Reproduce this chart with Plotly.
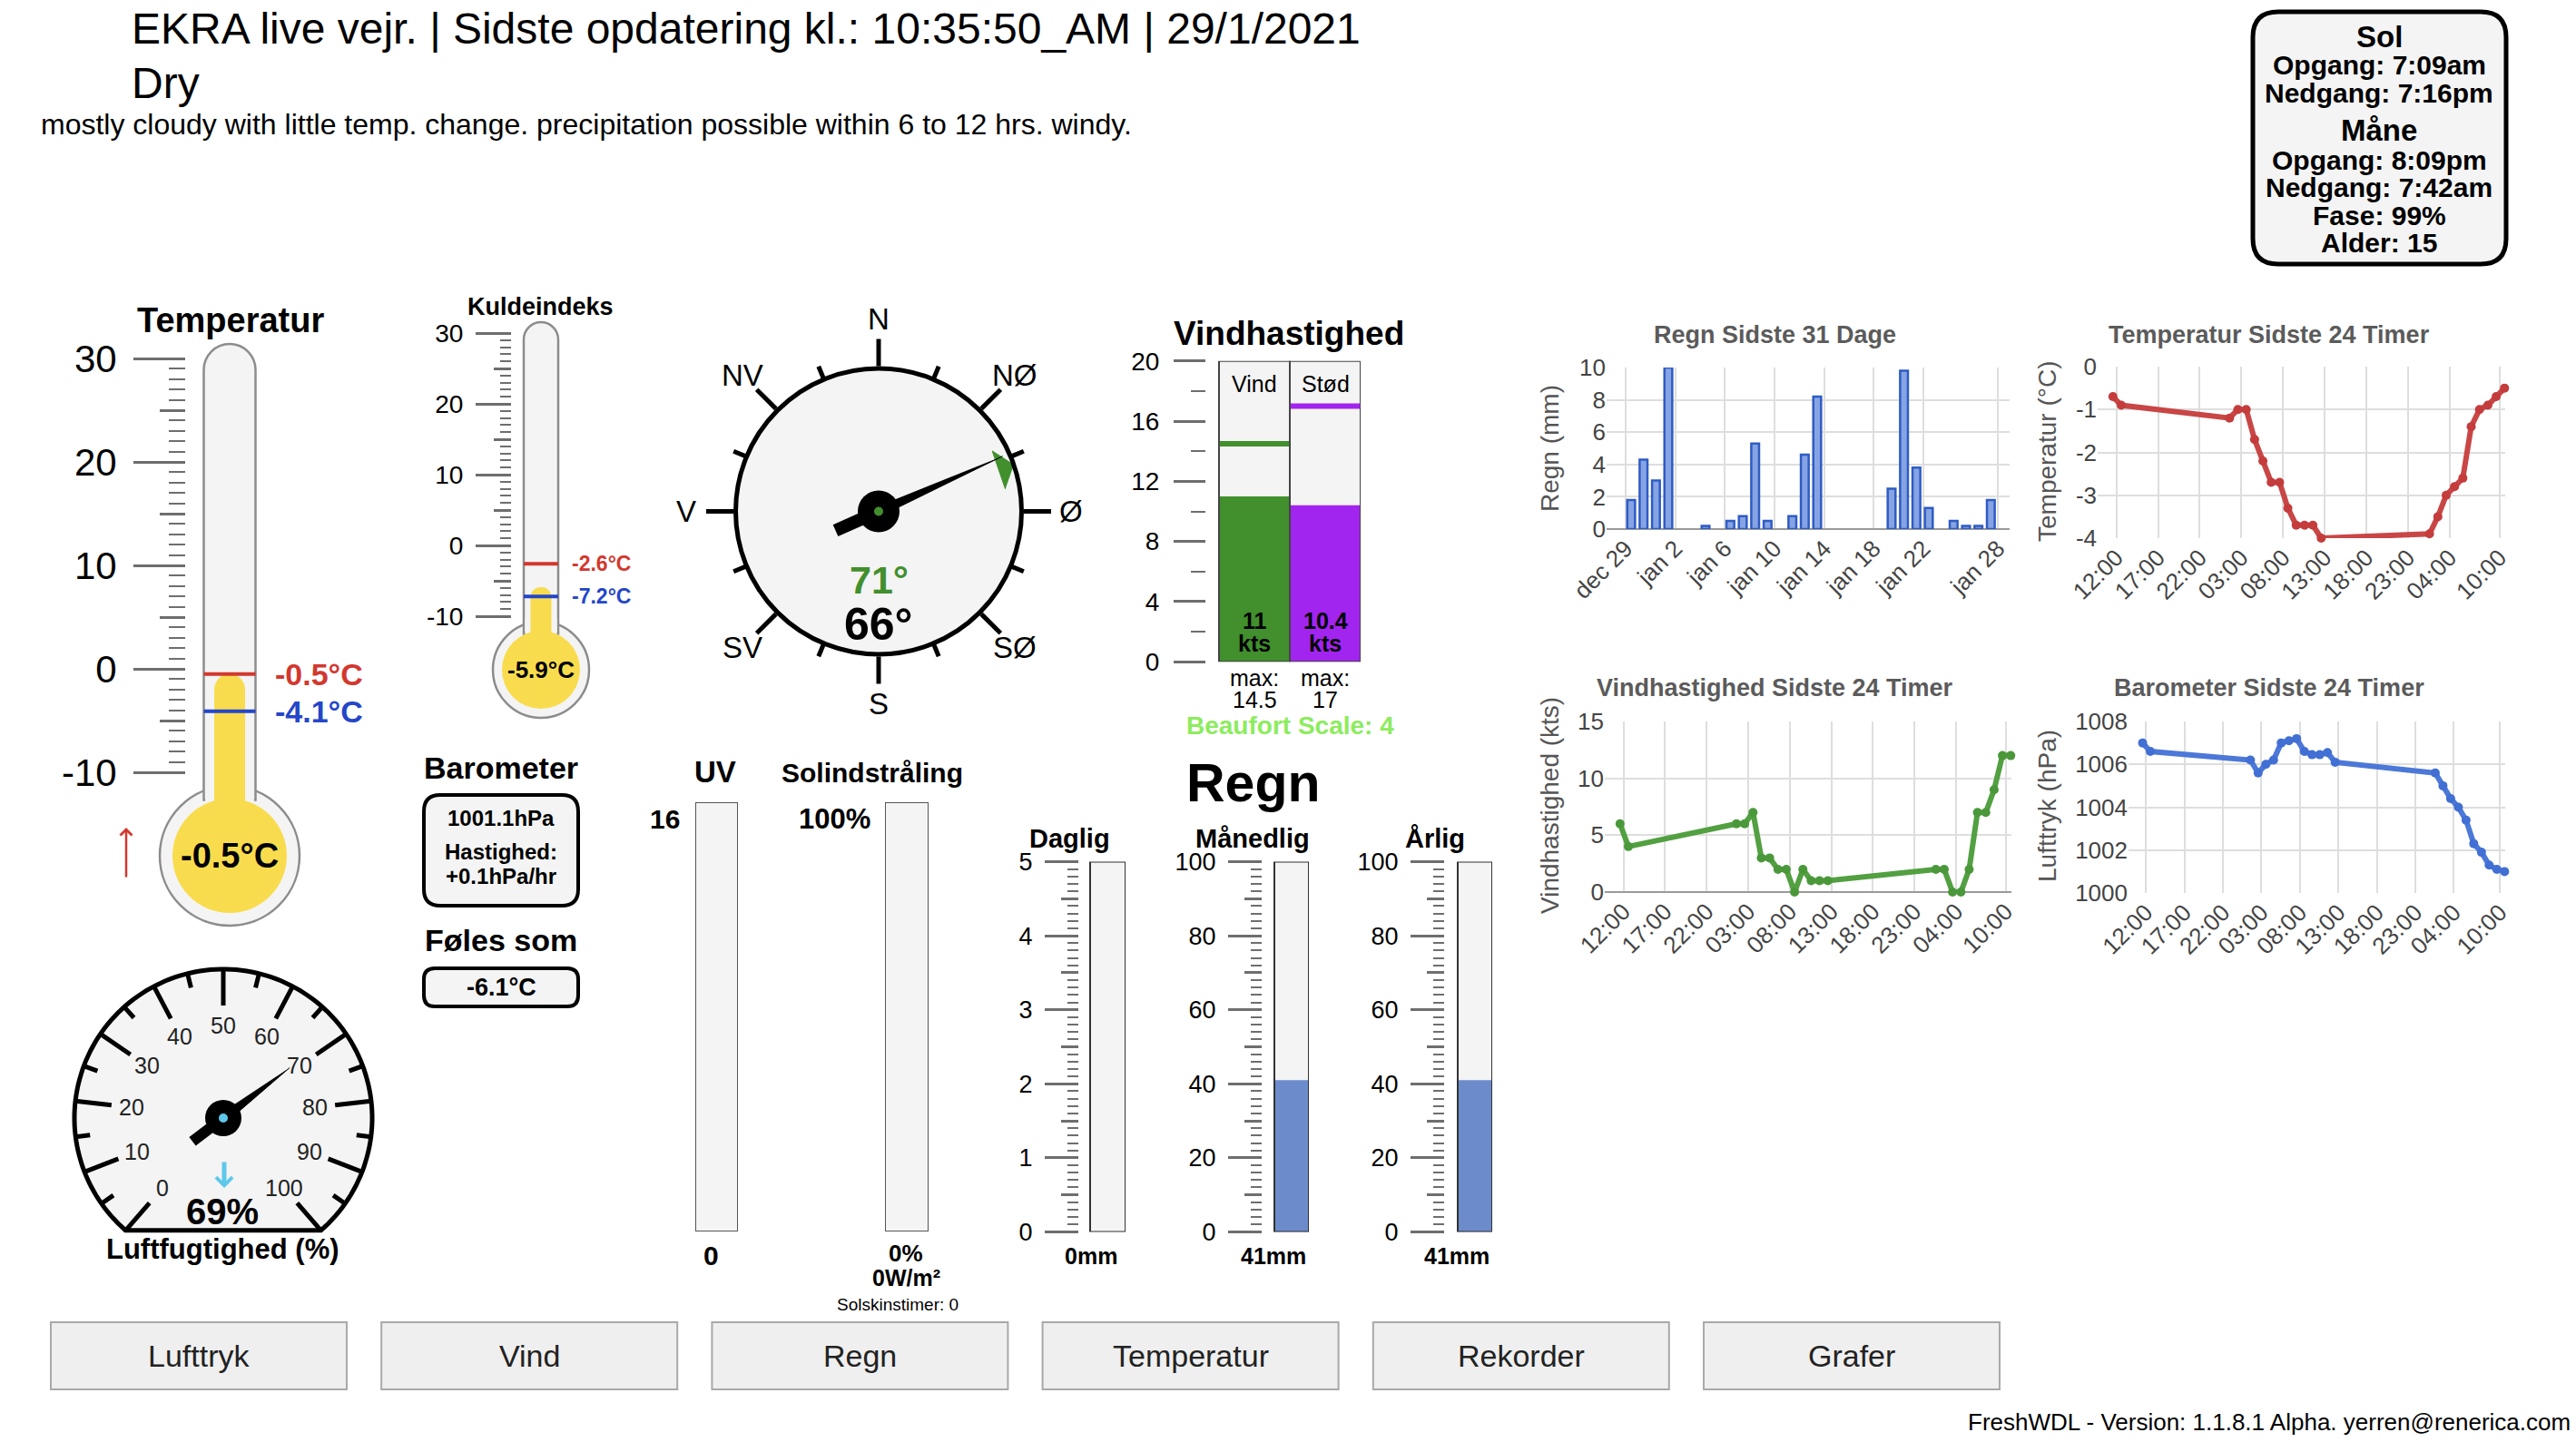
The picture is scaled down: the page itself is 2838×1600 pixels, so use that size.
import numpy as np
import plotly.graph_objects as go

W, H = 2838, 1600
FONT = "Liberation Sans, Arial, Helvetica, sans-serif"

# ---------------------------------------------------------------- data
title_text = "EKRA live vejr. | Sidste opdatering kl.: 10:35:50_AM | 29/1/2021"
condition_text = "Dry"
forecast_text = "mostly cloudy with little temp. change. precipitation possible within 6 to 12 hrs. windy."

sun_head = "Sol"
sun_lines = ["Opgang: 7:09am", "Nedgang: 7:16pm"]
moon_head = "Måne"
moon_lines = ["Opgang: 8:09pm", "Nedgang: 7:42am", "Fase: 99%", "Alder: 15"]

temp_now = -0.5
temp_high = -0.5
temp_low = -4.1

chill_now = -5.9
chill_high = -2.6
chill_low = -7.2

baro_value = 1001.1
baro_rate = 0.1
feels_like = -6.1
humidity = 69

wind_dir = 66
wind_dir_avg = 71
compass_labels = ["N", "NØ", "Ø", "SØ", "S", "SV", "V", "NV"]

wind_names = ["Vind", "Stød"]
wind_speed = [11, 10.4]
wind_max = [14.5, 17]
wind_scale_max = 20
beaufort = 4

uv_index = 0
uv_scale_max = 16
solar_pct = 0
solar_wm2 = 0
sun_hours = 0

rain_gauge_names = ["Daglig", "Månedlig", "Årlig"]
rain_gauge_values = [0, 41, 41]
rain_gauge_max = [5, 100, 100]

rain_days = ["2020-12-29", "2020-12-30", "2020-12-31", "2021-01-01", "2021-01-04",
             "2021-01-06", "2021-01-07", "2021-01-08", "2021-01-09", "2021-01-11",
             "2021-01-12", "2021-01-13", "2021-01-19", "2021-01-20", "2021-01-21",
             "2021-01-22", "2021-01-24", "2021-01-25", "2021-01-26", "2021-01-27"]
rain_mm = [1.8, 4.3, 3.0, 10.0, 0.2, 0.5, 0.8, 5.3, 0.5, 0.8,
           4.6, 8.2, 2.5, 9.8, 3.8, 1.3, 0.5, 0.2, 0.2, 1.8]
rain_tick_days = ["2020-12-29", "2021-01-02", "2021-01-06", "2021-01-10",
                  "2021-01-14", "2021-01-18", "2021-01-22", "2021-01-28"]
rain_tick_labels = ["dec 29", "jan 2", "jan 6", "jan 10", "jan 14", "jan 18", "jan 22", "jan 28"]

obs_times = ["2021-01-27 11:35", "2021-01-27 12:35",
             "2021-01-28 01:35", "2021-01-28 02:35", "2021-01-28 03:35", "2021-01-28 04:35",
             "2021-01-28 05:35", "2021-01-28 06:35", "2021-01-28 07:35", "2021-01-28 08:35",
             "2021-01-28 09:35", "2021-01-28 10:35", "2021-01-28 11:35", "2021-01-28 12:35",
             "2021-01-29 01:35", "2021-01-29 02:35", "2021-01-29 03:35", "2021-01-29 04:35",
             "2021-01-29 05:35", "2021-01-29 06:35", "2021-01-29 07:35", "2021-01-29 08:35",
             "2021-01-29 09:35", "2021-01-29 10:35"]
temp_24h = [-0.7, -0.9, -1.2, -1.0, -1.0, -1.7, -2.2, -2.7, -2.7, -3.3, -3.7, -3.7,
            -3.7, -4.0, -3.9, -3.5, -3.0, -2.8, -2.6, -1.4, -1.0, -0.9, -0.7, -0.5]
wind_24h = [6, 4, 6, 6, 7, 3, 3, 2, 2, 0, 2, 1, 1, 1, 2, 2, 0, 0, 2, 7, 7, 9, 12, 12]
baro_24h = [1007.0, 1006.6, 1006.2, 1005.6, 1006.0, 1006.2, 1007.0, 1007.1, 1007.2, 1006.6,
            1006.45, 1006.45, 1006.55, 1006.1, 1005.6, 1005.0, 1004.4, 1004.0, 1003.4, 1002.3,
            1001.9, 1001.3, 1001.1, 1001.0]
hour_ticks = ["2021-01-27 12:00", "2021-01-27 17:00", "2021-01-27 22:00", "2021-01-28 03:00",
              "2021-01-28 08:00", "2021-01-28 13:00", "2021-01-28 18:00", "2021-01-28 23:00",
              "2021-01-29 04:00", "2021-01-29 10:00"]
hour_tick_labels = ["12:00", "17:00", "22:00", "03:00", "08:00", "13:00", "18:00", "23:00", "04:00", "10:00"]

nav_buttons = ["Lufttryk", "Vind", "Regn", "Temperatur", "Rekorder", "Grafer"]
footer_text = "FreshWDL - Version: 1.1.8.1 Alpha. yerren@renerica.com"

# ---------------------------------------------------------------- style
LIGHT = "#f4f4f4"
YELLOW = "#f8dc4e"
TUBE_LINE = "#8c8c8c"
TICK = "#6e6e6e"
RED = "#d2382f"
BLUE = "#2446c9"
GREEN = "#418f2d"
PURPLE = "#a224ef"
RAIN_FILL = "#6b8bcb"
GRID = "#dedede"
AXIS_TEXT = "#444444"
TITLE_GRAY = "#5b5b5b"


def dom_x(a, b):
    return [a / W, b / W]


def dom_y(top, bottom):
    return [1 - bottom / H, 1 - top / H]


def cal_dom(va, pa, vb, pb, lo, hi):
    k = (pb - pa) / (vb - va)
    return dom_y(pa + (hi - va) * k, pa + (lo - va) * k)


def cal_val(va, pa, vb, pb, px):
    k = (pb - pa) / (vb - va)
    return va + (px - pa) / k


fig = go.Figure()
shapes, anns = [], []
L = dict(width=W, height=H, margin=dict(l=0, r=0, t=0, b=0, pad=0, autoexpand=False),
         paper_bgcolor="white", plot_bgcolor="rgba(0,0,0,0)", showlegend=False,
         barmode="overlay", hovermode=False, font=dict(family=FONT))
L["xaxis"] = dict(domain=[0, 1], range=[0, W], visible=False, fixedrange=True, automargin=False)
L["yaxis"] = dict(domain=[0, 1], range=[H, 0], visible=False, fixedrange=True, automargin=False)


def dummy(xa, ya):
    fig.add_trace(go.Scatter(x=[None], y=[None], xaxis=xa, yaxis=ya, mode="markers",
                             hoverinfo="skip", showlegend=False))


dummy("x", "y")


def T(x, y, s, size, color="black", bold=False, xanchor="center", yanchor="middle", angle=0):
    if bold:
        s = f"<b>{s}</b>"
    anns.append(dict(x=x, y=y, xref="x", yref="y", text=s, showarrow=False,
                     font=dict(size=size, color=color, family=FONT),
                     xanchor=xanchor, yanchor=yanchor, textangle=angle))


def shp(**kw):
    kw.setdefault("xref", "x")
    kw.setdefault("yref", "y")
    kw.setdefault("layer", "below")
    shapes.append(kw)


def rrect(x0, y0, x1, y1, r, fill, line, lw):
    d = (f"M {x0+r},{y0} L {x1-r},{y0} Q {x1},{y0} {x1},{y0+r} L {x1},{y1-r} Q {x1},{y1} {x1-r},{y1} "
         f"L {x0+r},{y1} Q {x0},{y1} {x0},{y1-r} L {x0},{y0+r} Q {x0},{y0} {x0+r},{y0} Z")
    shp(type="path", path=d, fillcolor=fill, line=dict(color=line, width=lw))


def tube_path(cx, r, top, bottom):
    cy = top + r
    k = 0.5523 * r
    return (f"M {cx-r},{bottom} L {cx-r},{cy} C {cx-r},{cy-k} {cx-k},{top} {cx},{top} "
            f"C {cx+k},{top} {cx+r},{cy-k} {cx+r},{cy} L {cx+r},{bottom} Z")


def scale_y(name, anchor, domain, rng, vals, texts, ticklen, size, standoff,
            minor_vals=None, minor_len=0, overlaying=None, showlabels=True):
    d = dict(anchor=anchor, range=list(rng), tickmode="array", tickvals=vals, ticktext=texts,
             ticks="outside", ticklen=ticklen, tickwidth=2.5, tickcolor=TICK, showgrid=False,
             zeroline=False, showline=False, showticklabels=showlabels,
             tickfont=dict(size=size, color="black", family=FONT), ticklabelstandoff=standoff,
             fixedrange=True, side="left", automargin=False)
    if overlaying:
        d["overlaying"] = overlaying
    else:
        d["domain"] = domain
    if minor_vals is not None:
        d["minor"] = dict(tickmode="array", tickvals=minor_vals, ticks="outside", ticklen=minor_len,
                          tickwidth=2, tickcolor=TICK, showgrid=False)
    L[name] = d


# ---------------------------------------------------------------- header
T(143, 31, title_text, 48, xanchor="left")
T(143, 91, condition_text, 48, xanchor="left")
T(43, 137, forecast_text, 32, xanchor="left")

# sun / moon box
rrect(2482, 13, 2761, 291, 28, LIGHT, "black", 5)
T(2621, 40, sun_head, 33, bold=True)
for i, s in enumerate(sun_lines):
    T(2621, 71 + 31 * i, s, 30, bold=True)
T(2621, 143, moon_head, 33, bold=True)
for i, s in enumerate(moon_lines):
    T(2621, 176 + 30.5 * i, s, 30, bold=True)


# ---------------------------------------------------------------- thermometers
def thermometer(ix, iy, imid, cx, half, top, bcy, br, bin_r, col_half, tick_x, cal, rng,
                now, hi, lo, lab_size, standoff, major_len, mid_len, minor_len, side_size, bulb_size):
    shp(type="circle", x0=cx - br, x1=cx + br, y0=bcy - br, y1=bcy + br, fillcolor=LIGHT,
        line=dict(color=TUBE_LINE, width=2.5))
    join = bcy - np.sqrt(br ** 2 - half ** 2) + 10
    shp(type="path", path=tube_path(cx, half, top, join), fillcolor=LIGHT,
        line=dict(color=TUBE_LINE, width=2.5))
    shp(type="rect", x0=cx - half + 1.6, x1=cx + half - 1.6, y0=bcy - br - 4, y1=join + 4,
        fillcolor=LIGHT, line=dict(width=0))
    shp(type="circle", x0=cx - bin_r, x1=cx + bin_r, y0=bcy - bin_r, y1=bcy + bin_r,
        fillcolor=YELLOW, line=dict(width=0))
    D = 2 * (cx - tick_x)
    L[f"xaxis{ix}"] = dict(domain=dom_x(tick_x, 2 * cx - tick_x), range=[-0.5, 0.5],
                           anchor=f"y{iy}", visible=False, fixedrange=True, type="linear")
    major = [-10, 0, 10, 20, 30]
    scale_y(f"yaxis{iy}", f"x{ix}", cal_dom(*cal, *rng), rng, major, [f"{v}" for v in major],
            major_len, lab_size, standoff, list(range(-10, 31)), minor_len)
    mids = [-5, 5, 15, 25]
    scale_y(f"yaxis{imid}", f"x{ix}", None, rng, mids, [""] * 4, mid_len, lab_size, 0,
            overlaying=f"y{iy}", showlabels=False)
    dummy(f"x{ix}", f"y{imid}")
    bulb_val = cal_val(*cal, bcy)
    fig.add_trace(go.Bar(x=[0], y=[now - bulb_val], base=[bulb_val], width=[2 * col_half / D],
                         marker=dict(color=YELLOW, cornerradius=col_half, line=dict(width=0)),
                         xaxis=f"x{ix}", yaxis=f"y{iy}"))
    lx = half / D
    for v, c in ((hi, RED), (lo, BLUE)):
        fig.add_trace(go.Scatter(x=[-lx, lx], y=[v, v], mode="lines", line=dict(color=c, width=4),
                                 xaxis=f"x{ix}", yaxis=f"y{iy}"))
        anns.append(dict(xref=f"x{ix}", yref=f"y{iy}", x=0.5, y=v, text=f"<b>{v:.1f}°C</b>",
                         showarrow=False, xanchor="left", yanchor="middle",
                         font=dict(size=side_size, color=c, family=FONT)))
    T(cx, bcy, f"{now:.1f}°C", bulb_size, bold=True)


T(254, 353, "Temperatur", 38, bold=True)
thermometer(2, 2, 3, 253, 28.5, 379, 943, 77, 63, 17, 205, (30, 395, -10, 851), (-26, 33),
            temp_now, temp_high, temp_low, 42, 10, 57, 28, 18, 34, 38)
anns.append(dict(x=139, y=912, ax=139, ay=968, xref="x", yref="y", axref="x", ayref="y",
                 text="", showarrow=True, arrowhead=4, arrowsize=1, arrowwidth=2.5, arrowcolor=RED))

T(595, 338, "Kuldeindeks", 27, bold=True)
thermometer(4, 4, 5, 596, 19, 355, 738, 53, 43, 11.5, 564, (30, 367, -10, 679), (-26, 33),
            chill_now, chill_high, chill_low, 28, 8, 39, 19, 12, 23, 26)

# barometer / feels like
T(552, 846, "Barometer", 34, bold=True)
rrect(467, 876, 637, 998, 18, LIGHT, "black", 4)
T(552, 901, f"{baro_value:.1f}hPa", 24, bold=True)
T(552, 938, "Hastighed:", 24, bold=True)
T(552, 965, f"{baro_rate:+.1f}hPa/hr", 24, bold=True)
T(552, 1036, "Føles som", 34, bold=True)
rrect(467, 1067, 637, 1109, 12, LIGHT, "black", 4)
T(552, 1088, f"{feels_like:.1f}°C", 27, bold=True)

# ---------------------------------------------------------------- humidity gauge
HCX, HCY, HR = 246, 1232, 164
H_START, H_SPAN = -139.0, 278.0
ang = np.radians(np.linspace(H_START, H_START + H_SPAN, 140))
pts = [(HCX + HR * np.sin(a), HCY - HR * np.cos(a)) for a in ang]
shp(type="path", path="M " + " L ".join(f"{x:.1f},{y:.1f}" for x, y in pts) + " Z",
    fillcolor=LIGHT, line=dict(color="black", width=5))
for v in range(0, 101, 5):
    a = np.radians(H_START + H_SPAN * v / 100)
    r_in = HR - (40 if v % 10 == 0 else 16)
    shp(type="line", x0=HCX + r_in * np.sin(a), y0=HCY - r_in * np.cos(a),
        x1=HCX + HR * np.sin(a), y1=HCY - HR * np.cos(a), line=dict(color="black", width=5))
    if v % 10 == 0:
        T(HCX + 102 * np.sin(a), HCY - 102 * np.cos(a), f"{v}", 25, "#222")

hum_theta = H_START + H_SPAN * humidity / 100
L["polar2"] = dict(domain=dict(x=dom_x(HCX - HR, HCX + HR), y=dom_y(HCY - HR, HCY + HR)),
                   bgcolor="rgba(0,0,0,0)",
                   radialaxis=dict(visible=False, range=[0, 1]),
                   angularaxis=dict(visible=False, rotation=90, direction="clockwise"))
fig.add_trace(go.Scatterpolar(r=[0.56, 0.035, 0.035], theta=[hum_theta, hum_theta + 90, hum_theta - 90],
                              fill="toself", fillcolor="black", mode="lines",
                              line=dict(color="black", width=1), subplot="polar2"))
fig.add_trace(go.Scatterpolar(r=[0, 0.26], theta=[hum_theta + 180] * 2, mode="lines",
                              line=dict(color="black", width=12), subplot="polar2"))
fig.add_trace(go.Scatterpolar(r=[0], theta=[0], mode="markers",
                              marker=dict(size=40, color="black"), subplot="polar2"))
fig.add_trace(go.Scatterpolar(r=[0], theta=[0], mode="markers",
                              marker=dict(size=10, color="#5ec8ea"), subplot="polar2"))
anns.append(dict(x=247, y=1309, ax=247, ay=1279, xref="x", yref="y", axref="x", ayref="y",
                 text="", showarrow=True, arrowhead=4, arrowsize=0.7, arrowwidth=5, arrowcolor="#5ec8ea"))
T(245, 1335, f"{humidity}%", 40, bold=True)
T(245, 1376, "Luftfugtighed (%)", 31, bold=True)

# ---------------------------------------------------------------- compass
CCX, CCY, CR = 968, 563.5, 157.5
for k in range(8):
    a = np.radians(22.5 + 45 * k)
    shp(type="line", x0=CCX + 157 * np.sin(a), y0=CCY - 157 * np.cos(a),
        x1=CCX + 173 * np.sin(a), y1=CCY - 173 * np.cos(a), line=dict(color="black", width=5))
compass_angles = [45 * k for k in range(8)]
L["polar"] = dict(domain=dict(x=dom_x(CCX - CR, CCX + CR), y=dom_y(CCY - CR, CCY + CR)),
                  bgcolor=LIGHT,
                  radialaxis=dict(visible=False, range=[0, 1]),
                  angularaxis=dict(rotation=90, direction="clockwise", tickmode="array",
                                   tickvals=compass_angles, ticktext=compass_labels,
                                   showticklabels=False,
                                   ticks="outside", ticklen=30, tickwidth=5, tickcolor="black",
                                   showline=True, linecolor="black", linewidth=5, showgrid=False))
for lab, a_deg in zip(compass_labels, compass_angles):
    a = np.radians(a_deg)
    T(CCX + 212 * np.sin(a), CCY - 212 * np.cos(a), lab, 33)
fig.add_trace(go.Scatterpolar(r=[1.0, 0.9, 0.9], theta=[wind_dir_avg, wind_dir_avg - 9, wind_dir_avg + 9],
                              fill="toself", fillcolor=GREEN, mode="lines",
                              line=dict(color=GREEN, width=1), subplot="polar"))
fig.add_trace(go.Scatterpolar(r=[0.95, 0.035, 0.035], theta=[wind_dir, wind_dir + 90, wind_dir - 90],
                              fill="toself", fillcolor="black", mode="lines",
                              line=dict(color="black", width=1), subplot="polar"))
fig.add_trace(go.Scatterpolar(r=[0, 0.33], theta=[wind_dir + 180] * 2, mode="lines",
                              line=dict(color="black", width=14), subplot="polar"))
fig.add_trace(go.Scatterpolar(r=[0], theta=[0], mode="markers",
                              marker=dict(size=46, color="black"), subplot="polar"))
fig.add_trace(go.Scatterpolar(r=[0], theta=[0], mode="markers",
                              marker=dict(size=10, color=GREEN), subplot="polar"))
T(968, 639, f"{wind_dir_avg}°", 43, GREEN, bold=True)
T(968, 688, f"{wind_dir}°", 50, bold=True)


# ---------------------------------------------------------------- generic gauge bars
def gauge_bars(xa, ya, xs, maxes, values, colors, outline="#3a3a3a", lw=2):
    fig.add_trace(go.Bar(x=xs, y=maxes, width=1, marker=dict(color=LIGHT, line=dict(width=0)),
                         xaxis=xa, yaxis=ya))
    fig.add_trace(go.Bar(x=xs, y=values, width=1, marker=dict(color=colors, line=dict(width=0)),
                         xaxis=xa, yaxis=ya))
    fig.add_trace(go.Bar(x=xs, y=maxes, width=1,
                         marker=dict(color="rgba(0,0,0,0)", line=dict(color=outline, width=lw)),
                         xaxis=xa, yaxis=ya))


# ---------------------------------------------------------------- wind speed gauge
T(1420, 367, "Vindhastighed", 37, bold=True)
W_AX, W_BL, W_BW = 1329, 1343, 78
L["xaxis6"] = dict(domain=dom_x(W_AX, W_BL + 2 * W_BW), range=[-0.5 - (W_BL - W_AX) / W_BW, 1.5],
                   anchor="y6", visible=False, fixedrange=True, type="linear")
wmaj = list(range(0, wind_scale_max + 1, 4))
scale_y("yaxis6", "x6", cal_dom(20, 397.7, 0, 729.3, 0, wind_scale_max), (0, wind_scale_max),
        wmaj, [f"{v}" for v in wmaj], 35, 28, 10, list(range(2, wind_scale_max, 4)), 16)
gauge_bars("x6", "y6", [0, 1], [wind_scale_max] * 2, wind_speed, [GREEN, PURPLE], "#444", 2)
for i, (m, c) in enumerate(zip(wind_max, [GREEN, PURPLE])):
    fig.add_trace(go.Scatter(x=[i - 0.49, i + 0.49], y=[m, m], mode="lines",
                             line=dict(color=c, width=6), xaxis="x6", yaxis="y6"))
for i, name in enumerate(wind_names):
    cx = W_BL + W_BW * (i + 0.5)
    T(cx, 423, name, 25)
    T(cx, 684, f"{wind_speed[i]:g}", 25, bold=True)
    T(cx, 709, "kts", 25, bold=True)
    T(cx, 747, "max:", 25)
    T(cx, 771, f"{wind_max[i]:g}", 25)
T(1421, 799, f"Beaufort Scale: {beaufort}", 28, "#8cec5e", bold=True)

# ---------------------------------------------------------------- UV / solar
T(788, 850, "UV", 33, bold=True)
T(961, 851, "Solindstråling", 30, bold=True)
for ix, (x0, x1, vmax, val) in zip((7, 8), ((766, 813, uv_scale_max, uv_index), (975, 1023, 100, solar_pct))):
    L[f"xaxis{ix}"] = dict(domain=dom_x(x0, x1), range=[-0.5, 0.5], anchor=f"y{ix}",
                           visible=False, fixedrange=True, type="linear")
    L[f"yaxis{ix}"] = dict(domain=dom_y(884, 1357), range=[0, vmax], anchor=f"x{ix}",
                           visible=False, fixedrange=True)
    gauge_bars(f"x{ix}", f"y{ix}", [0], [vmax], [val], ["#f4c542"], "#555", 2)
T(751, 902, f"{uv_scale_max}", 30, bold=True, xanchor="right")
T(961, 902, "100%", 31, bold=True, xanchor="right")
T(783, 1383, f"{uv_index}", 30, bold=True)
T(998, 1381, f"{solar_pct}%", 26, bold=True)
T(998, 1408, f"{solar_wm2}W/m²", 25, bold=True)
T(989, 1437, f"Solskinstimer: {sun_hours}", 19)

# ---------------------------------------------------------------- rain gauges
T(1381, 863, "Regn", 59, bold=True)
rain_geo = [(1189, 1201, 1240, 1178, 1202), (1391, 1404, 1442, 1380, 1403), (1592, 1606, 1644, 1581, 1605)]
for k, (name, val, vmax) in enumerate(zip(rain_gauge_names, rain_gauge_values, rain_gauge_max)):
    ax_px, bl, br_, title_x, lab_x = rain_geo[k]
    ix, iy, imid = 9 + 2 * k, 9 + 2 * k, 10 + 2 * k
    bw = br_ - bl
    L[f"xaxis{ix}"] = dict(domain=dom_x(ax_px, br_), range=[-0.5 - (bl - ax_px) / bw, 0.5],
                           anchor=f"y{iy}", visible=False, fixedrange=True, type="linear")
    majors = [vmax * j / 5 for j in range(6)]
    scale_y(f"yaxis{iy}", f"x{ix}", dom_y(949.5, 1357.4), (0, vmax), majors,
            [f"{v:g}" for v in majors], 37, 27, 8, [vmax * j / 50 for j in range(51)], 12)
    mids = [vmax * (2 * j + 1) / 10 for j in range(5)]
    scale_y(f"yaxis{imid}", f"x{ix}", None, (0, vmax), mids, [""] * 5, 19, 27, 0,
            overlaying=f"y{iy}", showlabels=False)
    dummy(f"x{ix}", f"y{imid}")
    gauge_bars(f"x{ix}", f"y{iy}", [0], [vmax], [val], [RAIN_FILL], "#333", 2)
    T(title_x, 924, name, 29, bold=True)
    T(lab_x, 1384, f"{val:g}mm", 25, bold=True)


# ---------------------------------------------------------------- history charts
def chart_axes(n, xdom, ydom, xrange, xvals, xtext, yrange, yvals, ytext, zeroline=False):
    L[f"xaxis{n}"] = dict(domain=dom_x(*xdom), anchor=f"y{n}", type="date", range=xrange,
                          tickmode="array", tickvals=xvals, ticktext=xtext, tickangle=-45,
                          showgrid=True, gridcolor=GRID, gridwidth=2, ticks="", showline=False,
                          zeroline=False, tickfont=dict(size=26, color=AXIS_TEXT, family=FONT),
                          fixedrange=True, automargin=False)
    L[f"yaxis{n}"] = dict(domain=dom_y(*ydom), anchor=f"x{n}", range=yrange, tickmode="array",
                          tickvals=yvals, ticktext=ytext, showgrid=True, gridcolor=GRID, gridwidth=2,
                          ticks="", showline=False, zeroline=zeroline, zerolinecolor="#9a9a9a",
                          zerolinewidth=2, tickfont=dict(size=26, color=AXIS_TEXT, family=FONT),
                          fixedrange=True, automargin=False)


TIME_RANGE = ["2021-01-27 09:45", "2021-01-29 10:40"]

# rain 31 days
chart_axes(15, (1770, 2214), (405, 583), ["2020-12-27 11:00", "2021-01-28 22:50"],
           rain_tick_days, rain_tick_labels, [0, 10], [0, 2, 4, 6, 8, 10],
           ["0", "2", "4", "6", "8", "10"], zeroline=True)
fig.add_trace(go.Bar(x=[d + " 10:30" for d in rain_days], y=rain_mm, width=0.63 * 86400000,
                     marker=dict(color="#86a3e4", line=dict(color="#2f5cc4", width=2.5)),
                     xaxis="x15", yaxis="y15"))
T(1955, 369, "Regn Sidste 31 Dage", 27, TITLE_GRAY, bold=True)
T(1707, 494, "Regn (mm)", 28, "#555", angle=-90)

# temperature 24h
tv = [0, -1, -2, -3, -4]
chart_axes(16, (2311, 2760), (404, 593), TIME_RANGE, hour_ticks, hour_tick_labels,
           [-4, 0], tv, [f"{v}" for v in tv])
fig.add_trace(go.Scatter(x=obs_times, y=temp_24h, mode="lines+markers",
                         line=dict(color="#c94646", width=6), marker=dict(size=10, color="#c43c3c"),
                         cliponaxis=False, xaxis="x16", yaxis="y16"))
T(2500, 369, "Temperatur Sidste 24 Timer", 27, TITLE_GRAY, bold=True)
T(2255, 498, "Temperatur (°C)", 28, "#555", angle=-90)

# wind 24h
wv = [0, 5, 10, 15]
chart_axes(17, (1768, 2216), (795, 983), TIME_RANGE, hour_ticks, hour_tick_labels,
           [0, 15], wv, [f"{v}" for v in wv], zeroline=True)
fig.add_trace(go.Scatter(x=obs_times, y=wind_24h, mode="lines+markers",
                         line=dict(color="#52a041", width=6), marker=dict(size=10, color="#4a983a"),
                         cliponaxis=False, xaxis="x17", yaxis="y17"))
T(1955, 758, "Vindhastighed Sidste 24 Timer", 27, TITLE_GRAY, bold=True)
T(1707, 888, "Vindhastighed (kts)", 28, "#555", angle=-90)

# barometer 24h
bv = [1000, 1002, 1004, 1006, 1008]
chart_axes(18, (2345, 2760), (795, 984), TIME_RANGE, hour_ticks, hour_tick_labels,
           [1000, 1008], bv, [f"{v}" for v in bv])
fig.add_trace(go.Scatter(x=obs_times, y=baro_24h, mode="lines+markers",
                         line=dict(color="#4c78d8", width=6), marker=dict(size=10, color="#416fd3"),
                         cliponaxis=False, xaxis="x18", yaxis="y18"))
T(2500, 758, "Barometer Sidste 24 Timer", 27, TITLE_GRAY, bold=True)
T(2255, 888, "Lufttryk (hPa)", 28, "#555", angle=-90)

# ---------------------------------------------------------------- buttons / footer
for i, name in enumerate(nav_buttons):
    x0 = 56 + i * 364.2
    shp(type="rect", x0=x0, x1=x0 + 326, y0=1457, y1=1531, fillcolor="#efefef",
        line=dict(color="#a9a9a9", width=2))
    T(x0 + 163, 1494, name, 34, "#222")
T(2834, 1567, footer_text, 26, xanchor="right")

L["shapes"] = shapes
L["annotations"] = anns
fig.update_layout(**L)
fig.write_html("out.html", config={"displayModeBar": False},
               post_script="document.body.style.margin='0';document.body.style.overflow='hidden';")
